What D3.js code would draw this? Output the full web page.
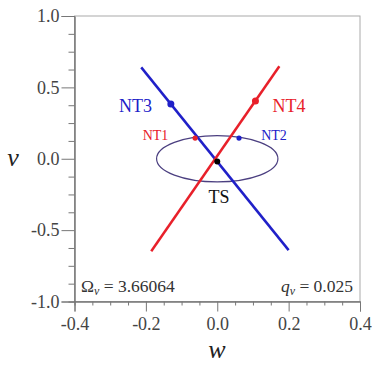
<!DOCTYPE html>
<html>
<head>
<meta charset="utf-8">
<script src="https://cdn.jsdelivr.net/npm/d3@7"></script>
<style>
  body { margin: 0; background: #fff; }
</style>
</head>
<body>
<div id="chart"></div>
<script>
// data
var xTicks = [-0.4, -0.2, 0.0, 0.2, 0.4];
var yTicks = [-1.0, -0.5, 0.0, 0.5, 1.0];
var xMinor = [-0.35, -0.3, -0.25, -0.15, -0.1, -0.05, 0.05, 0.1, 0.15, 0.25, 0.3, 0.35];
var yMinor = [-0.875, -0.75, -0.625, -0.375, -0.25, -0.125, 0.125, 0.25, 0.375, 0.625, 0.75, 0.875];
var blueLine = [[-0.213, 0.64], [0.2, -0.64]];
var redLine = [[-0.185, -0.648], [0.174, 0.648]];
var ellipseCenter = [0.0, 0.0];
var ellipseAxes = [0.17, 0.162];  // semi-axes in w, v

var points = [
  {name: "NT3", w: -0.130, v: 0.383, color: "#2020c8", r: 3.5},
  {name: "NT4", w: 0.107, v: 0.404, color: "#e8202a", r: 3.5},
  {name: "NT1", w: -0.062, v: 0.145, color: "#e8202a", r: 2.6},
  {name: "NT2", w: 0.061, v: 0.145, color: "#2020c8", r: 2.6},
  {name: "TS", w: 0.0, v: -0.02, color: "#000", r: 3}
];
// label positions (data coords)
var labels = [
  {text: "NT3", w: -0.229, v: 0.33, color: "#2020c8", size: 18},
  {text: "NT4", w: 0.201, v: 0.33, color: "#e8202a", size: 18},
  {text: "NT1", w: -0.173, v: 0.133, color: "#e8202a", size: 14},
  {text: "NT2", w: 0.159, v: 0.133, color: "#2020c8", size: 14},
  {text: "TS", w: 0.005, v: -0.31, color: "#111", size: 18}
];

var FONT = "Liberation Serif";
var W = 372, H = 367;
var svg = d3.select("#chart").append("svg")
    .attr("width", W)
    .attr("height", H)
    .attr("font-family", FONT);

var x = d3.scaleLinear().domain([-0.4, 0.4]).range([74.5, 360]);
var y = d3.scaleLinear().domain([-1, 1]).range([301.5, 16]);

// frame (top/right light)
svg.append("rect")
    .attr("x", x(-0.4)).attr("y", y(1))
    .attr("width", x(0.4) - x(-0.4)).attr("height", y(-1) - y(1))
    .attr("fill", "none").attr("stroke", "#aaa").attr("stroke-width", 1);

function styleAxis(g) {
  g.attr("font-family", FONT);
  g.selectAll("path.domain").attr("stroke", "#777");
  g.selectAll("line").attr("stroke", "#777");
  g.selectAll("text").attr("font-size", 18).attr("fill", "#444").attr("font-family", FONT);
}
var fmt = function(d) { return d3.format(".1f")(d).replace("\u2212", "-"); };

// x axis: minor then major
svg.append("g").attr("transform", "translate(0," + y(-1) + ")")
    .call(d3.axisBottom(x).tickValues(xMinor).tickSize(4).tickFormat(""))
    .call(styleAxis);
svg.append("g").attr("transform", "translate(0," + y(-1) + ")")
    .call(d3.axisBottom(x).tickValues(xTicks).tickSize(10).tickPadding(6).tickFormat(fmt))
    .call(styleAxis);

// y axis
svg.append("g").attr("transform", "translate(" + x(-0.4) + ",0)")
    .call(d3.axisLeft(y).tickValues(yMinor).tickSize(6).tickFormat(""))
    .call(styleAxis);
svg.append("g").attr("transform", "translate(" + x(-0.4) + ",0)")
    .call(d3.axisLeft(y).tickValues(yTicks).tickSize(13).tickPadding(2).tickFormat(fmt))
    .call(styleAxis);

// ellipse
svg.append("ellipse")
    .attr("cx", x(ellipseCenter[0])).attr("cy", y(ellipseCenter[1]))
    .attr("rx", x(ellipseAxes[0]) - x(0))
    .attr("ry", y(0) - y(ellipseAxes[1]))
    .attr("fill", "none").attr("stroke", "#4b3f80").attr("stroke-width", 1.2);

var line = d3.line().x(function(d) { return x(d[0]); }).y(function(d) { return y(d[1]); });

svg.append("path").datum(blueLine).attr("d", line)
    .attr("stroke", "#2020c8").attr("stroke-width", 2.5).attr("fill", "none");
svg.append("path").datum(redLine).attr("d", line)
    .attr("stroke", "#e8202a").attr("stroke-width", 2.5).attr("fill", "none");

svg.selectAll("circle.pt").data(points).enter().append("circle")
    .attr("class", "pt")
    .attr("cx", function(d) { return x(d.w); })
    .attr("cy", function(d) { return y(d.v); })
    .attr("r", function(d) { return d.r; })
    .attr("fill", function(d) { return d.color; });

svg.selectAll("text.lbl").data(labels).enter().append("text")
    .attr("class", "lbl")
    .attr("x", function(d) { return x(d.w); })
    .attr("y", function(d) { return y(d.v); })
    .attr("text-anchor", "middle")
    .attr("font-family", FONT)
    .attr("font-size", function(d) { return d.size; })
    .attr("fill", function(d) { return d.color; })
    .text(function(d) { return d.text; });

// parameters
var om = svg.append("text").attr("x", 81).attr("y", 291.5).attr("font-size", 17.5)
    .attr("font-family", FONT).attr("fill", "#333");
om.append("tspan").text("Ω");
om.append("tspan").attr("font-style", "italic").attr("font-size", 12).attr("dy", 3).text("v");
om.append("tspan").attr("dy", -3).text(" = 3.66064");

var q = svg.append("text").attr("x", 353).attr("y", 291.5).attr("font-size", 17.5)
    .attr("font-family", FONT).attr("fill", "#333").attr("text-anchor", "end");
q.append("tspan").attr("font-style", "italic").text("q");
q.append("tspan").attr("font-style", "italic").attr("font-size", 12).attr("dy", 3).text("v");
q.append("tspan").attr("dy", -3).text(" = 0.025");

// axis titles
svg.append("text").attr("x", 13).attr("y", 166).attr("text-anchor", "middle")
    .attr("font-family", FONT).attr("font-size", 26).attr("font-style", "italic")
    .attr("fill", "#222").text("v");
svg.append("text").attr("x", 217).attr("y", 358).attr("text-anchor", "middle")
    .attr("font-family", FONT).attr("font-size", 26).attr("font-style", "italic")
    .attr("fill", "#222").text("w");
</script>
</body>
</html>
